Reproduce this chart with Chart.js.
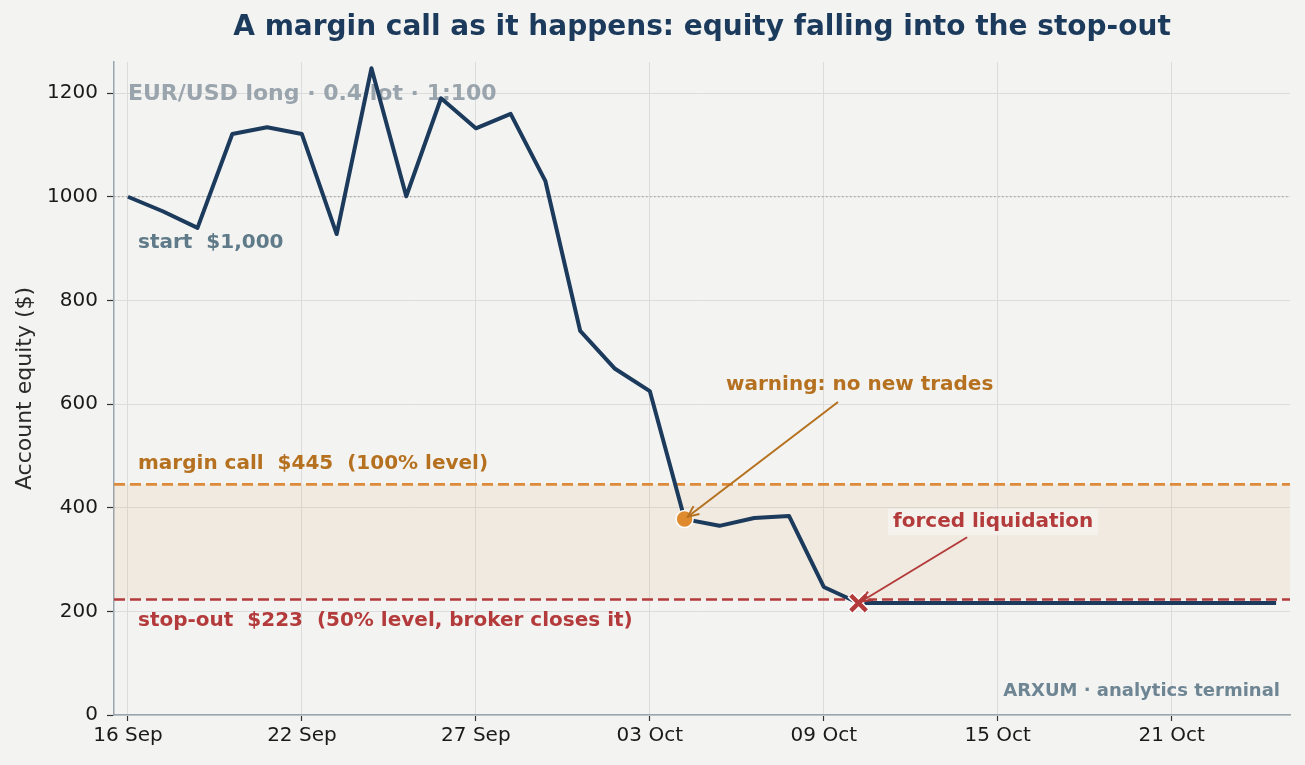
<!DOCTYPE html>
<html>
<head>
<meta charset="utf-8">
<script src="https://cdn.jsdelivr.net/npm/chart.js@4/dist/chart.umd.min.js"></script>
<style>
  html, body { margin: 0; padding: 0; background: #f3f3f1; }
  canvas { display: block; }
</style>
</head>
<body>
<canvas id="c" width="1305" height="765"></canvas>
<script>
// ---- data ----
const dateLabels = [
  "16 Sep","17 Sep","18 Sep","19 Sep","20 Sep",
  "22 Sep","23 Sep","24 Sep","25 Sep","26 Sep",
  "27 Sep","29 Sep","30 Sep","01 Oct","02 Oct",
  "03 Oct","04 Oct","06 Oct","07 Oct","08 Oct",
  "09 Oct","10 Oct","11 Oct","13 Oct","14 Oct",
  "15 Oct","16 Oct","17 Oct","18 Oct","20 Oct",
  "21 Oct","22 Oct","23 Oct","24 Oct"
];
const equity = [
  1000, 972, 940, 1121, 1134,
  1121, 928, 1248, 1001, 1190,
  1132, 1160, 1030, 741, 668,
  625, 378, 365, 380, 384,
  247, 216, 216, 216, 216,
  216, 216, 216, 216, 216,
  216, 216, 216, 216
];
const xTickIdx = [0, 5, 10, 15, 20, 25, 30];
const yTicks = [0, 200, 400, 600, 800, 1000, 1200];
const startLevel = 1000;
const marginCallLevel = 445;
const stopOutLevel = 223;
const warningIdx = 16;
const stopIdx = 21;

// ---- styles ----
const NAVY = '#1b3a5c';
const ORANGE_LINE = '#dc8b3a';
const ORANGE_TEXT = '#b5711f';
const RED = '#b33b3b';
const BG = '#f3f3f1';
const FONT = '"DejaVu Sans", sans-serif';

const linePts = equity.map((v, i) => ({x: i, y: v}));
const warnPt = [{x: warningIdx, y: equity[warningIdx]}];
const stopPt = [{x: stopIdx, y: equity[stopIdx]}];

function arrow(ctx, x1, y1, x2, y2, color) {
  const ang = Math.atan2(y2 - y1, x2 - x1);
  ctx.save();
  ctx.strokeStyle = color;
  ctx.lineWidth = 2;
  ctx.lineCap = 'butt';
  ctx.beginPath();
  ctx.moveTo(x1, y1);
  ctx.lineTo(x2, y2);
  ctx.stroke();
  const hl = 12, hw = 0.42;
  ctx.beginPath();
  ctx.moveTo(x2 - hl * Math.cos(ang - hw), y2 - hl * Math.sin(ang - hw));
  ctx.lineTo(x2, y2);
  ctx.lineTo(x2 - hl * Math.cos(ang + hw), y2 - hl * Math.sin(ang + hw));
  ctx.stroke();
  ctx.restore();
}

const decor = {
  id: 'decor',
  beforeDraw(chart) {
    const ctx = chart.ctx;
    ctx.save();
    ctx.fillStyle = BG;
    ctx.fillRect(0, 0, chart.width, chart.height);
    ctx.restore();
  },
  beforeDatasetsDraw(chart) {
    const {ctx, chartArea: a, scales: {x, y}} = chart;
    ctx.save();
    // band
    ctx.fillStyle = 'rgba(224,140,60,0.09)';
    const yTop = y.getPixelForValue(marginCallLevel);
    const yBot = y.getPixelForValue(stopOutLevel);
    ctx.fillRect(a.left, yTop, a.right - a.left, yBot - yTop);
    // start dotted
    ctx.strokeStyle = '#9a9a9a';
    ctx.lineWidth = 1.2;
    ctx.setLineDash([1.5, 2.5]);
    let yy = y.getPixelForValue(startLevel);
    ctx.beginPath(); ctx.moveTo(a.left, yy); ctx.lineTo(a.right, yy); ctx.stroke();
    // margin call dashed
    ctx.setLineDash([11, 5]);
    ctx.lineWidth = 2.6;
    ctx.strokeStyle = ORANGE_LINE;
    ctx.beginPath(); ctx.moveTo(a.left, yTop); ctx.lineTo(a.right, yTop); ctx.stroke();
    ctx.strokeStyle = RED;
    ctx.beginPath(); ctx.moveTo(a.left, yBot); ctx.lineTo(a.right, yBot); ctx.stroke();
    ctx.setLineDash([]);
    // subtitle (behind line)
    ctx.font = 'bold 22px ' + FONT;
    ctx.fillStyle = '#99a4ad';
    ctx.textBaseline = 'middle';
    ctx.textAlign = 'left';
    ctx.fillText('EUR/USD long · 0.4 lot · 1:100', x.getPixelForValue(0), y.getPixelForValue(1198));
    ctx.restore();
  },
  afterDatasetsDraw(chart) {
    const {ctx, chartArea: a, scales: {x, y}} = chart;
    ctx.save();
    ctx.textBaseline = 'middle';
    ctx.textAlign = 'left';
    // title
    ctx.font = 'bold 28px ' + FONT;
    ctx.fillStyle = NAVY;
    ctx.textAlign = 'center';
    ctx.fillText('A margin call as it happens: equity falling into the stop-out', (a.left + a.right) / 2, 28);
    ctx.textAlign = 'left';
    // level labels
    ctx.font = 'bold 20px ' + FONT;
    ctx.fillStyle = '#5f7a88';
    ctx.fillText('start  $1,000', x.getPixelForValue(0.29), y.getPixelForValue(912));
    ctx.fillStyle = ORANGE_TEXT;
    ctx.fillText('margin call  $445  (100% level)', x.getPixelForValue(0.29), y.getPixelForValue(484));
    ctx.fillStyle = RED;
    ctx.fillText('stop-out  $223  (50% level, broker closes it)', x.getPixelForValue(0.29), y.getPixelForValue(181));
    // warning annotation
    ctx.fillStyle = ORANGE_TEXT;
    ctx.fillText('warning: no new trades', x.getPixelForValue(17.19), y.getPixelForValue(637));
    const wx = x.getPixelForValue(warningIdx), wy = y.getPixelForValue(equity[warningIdx]);
    const wsx = x.getPixelForValue(20.41), wsy = y.getPixelForValue(604);
    let ang = Math.atan2(wy - wsy, wx - wsx);
    arrow(ctx, wsx, wsy, wx - 4 * Math.cos(ang), wy - 4 * Math.sin(ang), ORANGE_TEXT);
    // forced liquidation
    const fText = 'forced liquidation';
    const fx = x.getPixelForValue(21.99), fy = y.getPixelForValue(372);
    const fw = ctx.measureText(fText).width;
    ctx.fillStyle = 'rgba(246,243,240,0.85)';
    ctx.fillRect(fx - 5, fy - 13, fw + 10, 26);
    ctx.fillStyle = RED;
    ctx.fillText(fText, fx, fy);
    const sx = x.getPixelForValue(stopIdx), sy = y.getPixelForValue(equity[stopIdx]);
    const ssx = x.getPixelForValue(24.12), ssy = y.getPixelForValue(343);
    ang = Math.atan2(sy - ssy, sx - ssx);
    arrow(ctx, ssx, ssy, sx - 3 * Math.cos(ang), sy - 3 * Math.sin(ang), RED);
    // watermark
    ctx.font = 'bold 18px ' + FONT;
    ctx.fillStyle = '#6e8593';
    ctx.textAlign = 'right';
    ctx.fillText('ARXUM · analytics terminal', a.right - 10, 691);
    ctx.restore();
  }
};

new Chart(document.getElementById('c'), {
  type: 'line',
  data: {
    datasets: [
      {
        data: stopPt, type: 'scatter', pointStyle: 'crossRot',
        pointRadius: 12, borderColor: '#ffffff', borderWidth: 7.5, order: 1
      },
      {
        data: stopPt, type: 'scatter', pointStyle: 'crossRot',
        pointRadius: 11, borderColor: RED, borderWidth: 4.5, order: 0
      },
      {
        data: warnPt, type: 'scatter', pointStyle: 'circle',
        pointRadius: 8.5, backgroundColor: '#e08a2e', borderColor: '#ffffff', borderWidth: 1.5, order: 0
      },
      {
        data: linePts, borderColor: NAVY, borderWidth: 4, pointRadius: 0,
        tension: 0, fill: false, order: 2, borderJoinStyle: 'round'
      }
    ]
  },
  options: {
    responsive: false,
    animation: false,
    devicePixelRatio: 1,
    layout: { autoPadding: false, padding: { top: 62, right: 15, left: 0, bottom: 0 } },
    plugins: { legend: { display: false }, tooltip: { enabled: false }, title: { display: false } },
    scales: {
      x: {
        type: 'linear', min: -0.4, max: 33.4,
        afterBuildTicks: s => { s.ticks = xTickIdx.map(v => ({value: v})); },
        afterFit: s => { s.height = 50; },
        grid: { color: '#dcdcdc', lineWidth: 1, drawTicks: true, tickLength: 6, tickColor: '#333333', tickWidth: 1.2 },
        border: { color: '#9aa5ad', width: 1.5 },
        ticks: {
          autoSkip: false, maxRotation: 0, padding: 3,
          color: '#1a1a1a', font: { family: FONT, size: 20 },
          callback: v => dateLabels[v]
        }
      },
      y: {
        min: 0, max: 1260,
        afterBuildTicks: s => { s.ticks = yTicks.map(v => ({value: v})); },
        afterFit: s => { s.width = 114; },
        grid: { color: '#dcdcdc', lineWidth: 1, drawTicks: true, tickLength: 7, tickColor: '#333333', tickWidth: 1.2 },
        border: { color: '#9aa5ad', width: 1.5 },
        ticks: { color: '#1a1a1a', font: { family: FONT, size: 20 }, padding: 9, callback: v => String(v) },
        title: {
          display: true, text: 'Account equity ($)', color: '#2a2a2a',
          font: { family: FONT, size: 22 }, padding: { top: 12, bottom: 0 }
        }
      }
    }
  },
  plugins: [decor]
});
</script>
</body>
</html>
